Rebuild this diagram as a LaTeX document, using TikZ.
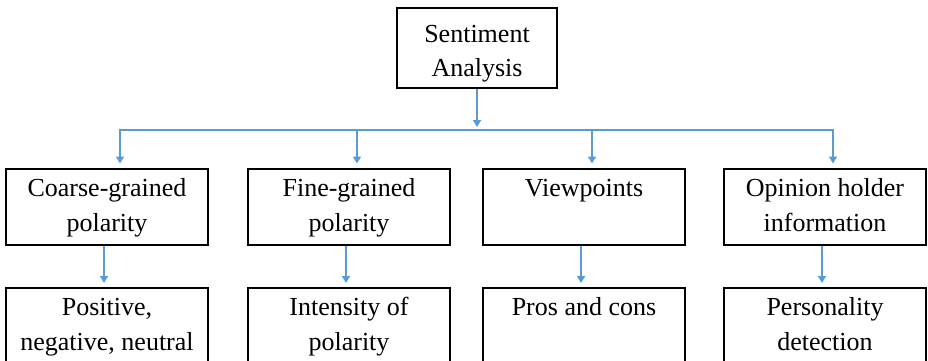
\documentclass[tikz,border=0pt]{standalone}
\usepackage{fontspec}
\setmainfont{Liberation Serif}
\usetikzlibrary{arrows.meta}
\definecolor{linkblue}{RGB}{91,155,213}
\begin{document}
\begin{tikzpicture}[x=1pt,y=-1pt,
  box/.style={draw=black, line width=2pt, minimum width=202pt, minimum height=76pt,
              inner sep=0pt, align=center, font=\fontsize{26}{35}\selectfont},
  link/.style={draw=linkblue, line width=2pt},
  arr/.style={link, -{Triangle[width=8pt,length=7pt]}, shorten >=4pt}]
\useasboundingbox (0,0) rectangle (928,361);
\clip (0,0) rectangle (928,361);

% root
\node[box, minimum width=160pt, minimum height=80pt] (root) at (477,48)
  {\rule{0pt}{33.5pt}Sentiment\\\strut Analysis};

% first level
\node[box] (c1) at (107,206.5) {\strut Coarse-grained\\\strut polarity};
\node[box] (c2) at (349,206.5) {\strut Fine-grained\\\strut polarity};
\node[box] (c3) at (584,206.5) {\strut Viewpoints\\\strut};
\node[box] (c4) at (825,206.5) {\strut Opinion holder\\\strut information};

% second level
\node[box] (d1) at (107,326) {\strut Positive,\\\strut negative, neutral};
\node[box] (d2) at (349,326) {\strut Intensity of\\\strut polarity};
\node[box] (d3) at (584,326) {\strut Pros and cons\\\strut};
\node[box] (d4) at (825,326) {\strut Personality\\\strut detection};

% distribution bus
\coordinate (b1) at (120,130);
\coordinate (b2) at (357,130);
\coordinate (b3) at (592,130);
\coordinate (b4) at (833,130);
\draw[link, line cap=rect] (b1) -- (b4);
\draw[arr, shorten >=3pt] (root.south) -- (root.south |- b1);

\foreach \i in {1,...,4}{
  \draw[arr] (b\i) -- (b\i |- c\i.north);
  \draw[arr] ([xshift=-3pt]c\i.south) -- ([xshift=-3pt]c\i.south |- d\i.north);
}
\end{tikzpicture}
\end{document}
